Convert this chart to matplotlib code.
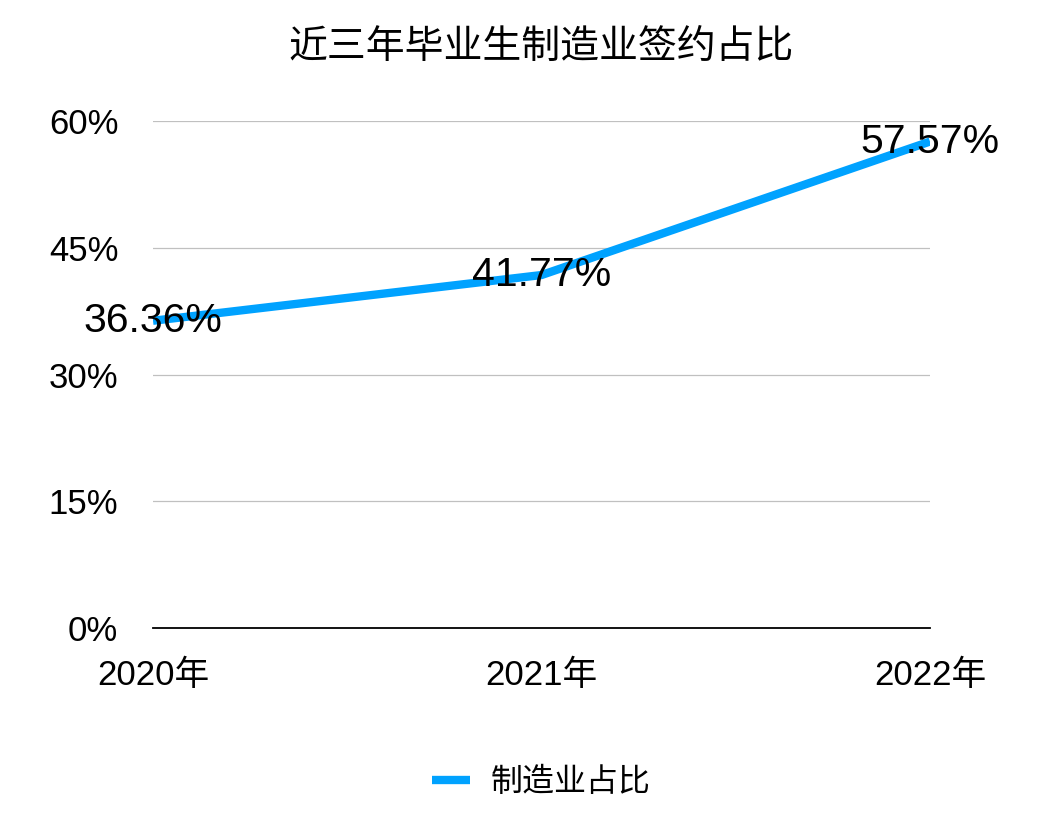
import matplotlib
matplotlib.use("Agg")
import matplotlib.pyplot as plt
import matplotlib.ticker as mtick

plt.rcParams["font.family"] = ["Liberation Sans", "Noto Sans CJK SC", "DejaVu Sans"]

# ─── DATA ─────────────────────────────────────────────────────────────────────
years  = ["2020年", "2021年", "2022年"]
shares = [36.36, 41.77, 57.57]
series_name = "制造业占比"
title = "近三年毕业生制造业签约占比"
y_ticks = [0, 15, 30, 45, 60]

LINE_COLOR = "#00A2FF"

# ─── PLOT ─────────────────────────────────────────────────────────────────────
fig = plt.figure(figsize=(10.44, 8.16), dpi=100)
ax = fig.add_axes([153 / 1044, 1 - 628 / 816, (930 - 153) / 1044, (628 - 121) / 816])

x = list(range(len(years)))
ax.plot(x, shares, color=LINE_COLOR, linewidth=6, solid_capstyle="butt",
        label=series_name, zorder=3)

# value labels sit right on top of each point
for xi, val in zip(x, shares):
    ax.text(xi, val, f"{val:.2f}%", ha="center", va="center",
            fontsize=29.5, color="black", zorder=4)

ax.set_xlim(0, len(years) - 1)
ax.set_ylim(0, 60)
ax.set_yticks(y_ticks)
ax.yaxis.set_major_formatter(mtick.FuncFormatter(lambda v, _: f"{v:.0f}%"))
ax.set_xticks(x)
ax.set_xticklabels(years)

ax.grid(axis="y", color="#C0C0C0", linewidth=0.9, zorder=0)
ax.set_axisbelow(True)
ax.spines[["top", "right", "left"]].set_visible(False)
ax.spines["bottom"].set_color("black")
ax.spines["bottom"].set_linewidth(1.3)
ax.spines["bottom"].set_zorder(2)
ax.tick_params(axis="y", length=0, labelsize=25, pad=25)
ax.tick_params(axis="x", length=0, labelsize=25, pad=22)

fig.text(541.5 / 1044, 1 - 48 / 816, title, ha="center", va="center", fontsize=28)

ax.legend(loc="center", bbox_to_anchor=(0.5, -0.306), frameon=False,
          fontsize=23, handlelength=1.2, handletextpad=0.65)

fig.savefig("out.png", dpi=100)
